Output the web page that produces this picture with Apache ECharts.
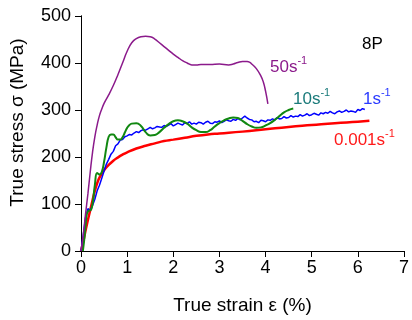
<!DOCTYPE html>
<html>
<head>
<meta charset="utf-8">
<script src="https://cdn.jsdelivr.net/npm/echarts@6/dist/echarts.min.js"></script>
<style>
html,body{margin:0;padding:0;background:#fff;}
#chart{width:412px;height:320px;}
</style>
</head>
<body>
<div id="chart"></div>
<script>
// Data: [strain %, true stress MPa]
const rate50 = [[0,0],[0.05,35],[0.1,80],[0.15,122],[0.2,168],[0.25,210],[0.3,243],[0.35,268],[0.4,288],[0.45,302],[0.5,314],[0.6,332],[0.7,352],[0.8,375],[0.9,400],[1.0,425],[1.1,443],[1.2,452],[1.3,456],[1.4,457],[1.5,456],[1.6,451],[1.7,443],[1.8,435],[1.9,427],[2.0,419],[2.1,412],[2.2,405],[2.3,400],[2.4,396],[2.5,396],[2.6,397],[2.8,397],[3.0,398],[3.2,396],[3.3,398],[3.4,401],[3.5,403],[3.6,403],[3.65,402],[3.7,398],[3.8,388],[3.9,372],[3.95,360],[4.0,340],[4.05,313]];
const rate10 = [[0.04,0],[0.07,24],[0.1,55],[0.13,80],[0.17,86],[0.21,87],[0.25,100],[0.3,140],[0.35,166],[0.4,163],[0.45,168],[0.5,190],[0.55,220],[0.6,243],[0.65,248],[0.7,248],[0.75,242],[0.8,237],[0.85,237],[0.9,242],[0.95,252],[1.0,262],[1.05,268],[1.1,271],[1.2,272],[1.3,266],[1.4,253],[1.5,246],[1.6,247],[1.7,253],[1.8,262],[1.9,270],[2.0,276],[2.1,278],[2.2,276],[2.3,271],[2.4,263],[2.5,257],[2.6,253],[2.7,253],[2.8,257],[2.9,265],[3.0,272],[3.1,278],[3.2,282],[3.3,284],[3.4,283],[3.5,277],[3.6,270],[3.7,265],[3.8,262],[3.9,263],[4.0,267],[4.1,272],[4.2,279],[4.3,287],[4.4,295],[4.5,300],[4.6,303]];
const rate1 = [[0,0],[0.05,35],[0.1,72],[0.15,90],[0.2,86],[0.25,97],[0.3,110],[0.35,128],[0.4,140],[0.45,155],[0.5,170],[0.55,185],[0.6,195],[0.65,206],[0.7,212],[0.75,224],[0.8,228],[0.85,236],[0.9,237],[0.95,243],[1.0,245],[1.05,248],[1.1,247],[1.15,251],[1.2,254],[1.25,252],[1.3,256],[1.35,258],[1.4,257],[1.45,260],[1.5,263],[1.55,260],[1.6,262],[1.65,265],[1.7,264],[1.75,263],[1.8,267],[1.85,265],[1.9,268],[1.95,271],[2.0,266],[2.05,269],[2.1,272],[2.15,270],[2.2,268],[2.25,273],[2.3,271],[2.35,275],[2.4,270],[2.45,272],[2.5,270],[2.55,274],[2.6,273],[2.65,270],[2.7,274],[2.75,276],[2.8,272],[2.85,271],[2.9,275],[2.95,274],[3.0,277],[3.05,273],[3.1,276],[3.15,279],[3.2,277],[3.25,276],[3.3,280],[3.35,278],[3.4,282],[3.45,279],[3.5,283],[3.55,287],[3.6,283],[3.65,280],[3.7,279],[3.75,275],[3.8,276],[3.85,273],[3.9,278],[3.95,277],[4.0,275],[4.05,279],[4.1,278],[4.15,281],[4.2,279],[4.25,284],[4.3,281],[4.35,282],[4.4,286],[4.45,283],[4.5,284],[4.55,288],[4.6,285],[4.65,287],[4.7,286],[4.75,290],[4.8,287],[4.85,289],[4.9,292],[4.95,288],[5.0,290],[5.05,293],[5.1,291],[5.15,289],[5.2,294],[5.25,292],[5.3,295],[5.35,293],[5.4,297],[5.45,294],[5.5,292],[5.55,296],[5.6,298],[5.65,295],[5.7,297],[5.75,300],[5.8,296],[5.85,298],[5.9,297],[5.95,295],[6.0,301],[6.05,299],[6.1,303],[6.15,301]];
const rate0001 = [[0,0],[0.05,20],[0.1,44],[0.15,66],[0.2,87],[0.25,108],[0.3,128],[0.35,144],[0.4,156],[0.5,172],[0.6,183],[0.7,192],[0.8,199],[0.9,205],[1.0,210],[1.2,218],[1.4,224],[1.6,229],[1.8,234],[2.0,237],[2.25,241],[2.5,245],[2.75,248],[3.0,250],[3.5,254],[4.0,259],[4.5,264],[5.0,268],[5.5,272],[6.0,275],[6.25,277]];
const xTicks = [0,1,2,3,4,5,6,7];
const yTicks = [0,100,200,300,400,500];

const FONT = '"Liberation Sans", Arial, sans-serif';
const chart = echarts.init(document.getElementById('chart'), null, {renderer:'canvas'});

function rateLabel(main, color, x, y) {
  return {
    type: 'text', left: x, top: y, z: 100,
    style: {
      text: '{m|' + main + '}{s|-1}',
      rich: {
        m: {fontFamily: FONT, fontSize: 17, fill: color, color: color, verticalAlign: 'bottom'},
        s: {fontFamily: FONT, fontSize: 11, fill: color, color: color, verticalAlign: 'top', padding: [0,0,10,0]}
      }
    }
  };
}

const baseAxis = {
  axisLine: {show: true, lineStyle: {color: '#000', width: 1}},
  splitLine: {show: false}
};

chart.setOption({
  animation: false,
  backgroundColor: '#fff',
  grid: {left: 80, right: 4, top: 16, bottom: 69, containLabel: false},
  xAxis: [
    Object.assign({}, baseAxis, {
      type: 'value', min: xTicks[0], max: xTicks[xTicks.length-1], interval: 1,
      position: 'bottom',
      axisTick: {show: true, inside: false, length: 6, lineStyle: {color: '#000'}},
      axisLabel: {fontFamily: FONT, fontSize: 18, color: '#000', margin: 8},
      name: 'True strain \u03b5 (%)', nameLocation: 'middle', nameGap: 45,
      nameTextStyle: {fontFamily: FONT, fontSize: 19, color: '#000'}
    }),
    Object.assign({}, baseAxis, {
      type: 'value', min: xTicks[0], max: xTicks[xTicks.length-1], interval: 1,
      position: 'top',
      axisTick: {show: true, inside: true, length: 6, lineStyle: {color: '#000'}},
      axisLabel: {show: false}
    })
  ],
  yAxis: [
    Object.assign({}, baseAxis, {
      type: 'value', min: yTicks[0], max: yTicks[yTicks.length-1], interval: 100,
      position: 'left',
      axisTick: {show: true, inside: false, length: 6, lineStyle: {color: '#000'}},
      axisLabel: {fontFamily: FONT, fontSize: 18, color: '#000', margin: 10},
      name: 'True stress \u03c3 (MPa)', nameLocation: 'middle', nameGap: 54,
      nameTextStyle: {fontFamily: FONT, fontSize: 19, color: '#000', padding: [0,0,0,22]}
    }),
    Object.assign({}, baseAxis, {
      type: 'value', min: yTicks[0], max: yTicks[yTicks.length-1], interval: 100,
      position: 'right',
      axisTick: {show: true, inside: true, length: 6, lineStyle: {color: '#000'}},
      axisLabel: {show: false}
    })
  ],
  series: [
    {name: '0.001', type: 'line', data: rate0001, showSymbol: false, smooth: true, lineStyle: {color: '#ff0000', width: 2.5}, z: 2},
    {name: '1', type: 'line', data: rate1, showSymbol: false, lineStyle: {color: '#0000ff', width: 1.5}, z: 3},
    {name: '10', type: 'line', data: rate10, showSymbol: false, smooth: true, lineStyle: {color: '#118811', width: 2}, z: 4},
    {name: '50', type: 'line', data: rate50, showSymbol: false, smooth: true, lineStyle: {color: '#8b1a8b', width: 1.5}, z: 5}
  ],
  graphic: [
    {type: 'text', left: 362, top: 36, z: 100, style: {text: '8P', fontFamily: FONT, fontSize: 17, fill: '#000'}},
    rateLabel('50s', '#8b1a8b', 270, 55),
    rateLabel('10s', '#1a7a7a', 293, 87),
    rateLabel('1s', '#2a3aff', 363, 87),
    rateLabel('0.001s', '#ff1a1a', 334, 128)
  ]
});
</script>
</body>
</html>
